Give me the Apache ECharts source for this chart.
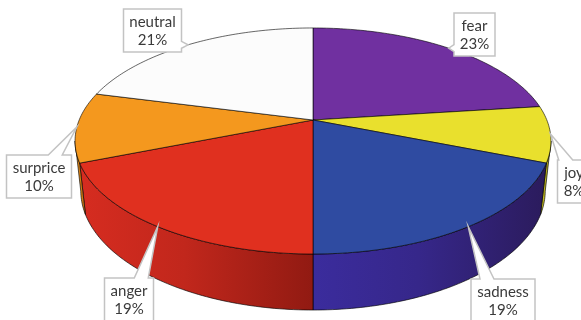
<!DOCTYPE html>
<html>
<head>
<meta charset="utf-8">
<script src="https://cdn.jsdelivr.net/npm/echarts@6/dist/echarts.min.js"></script>
<style>
  html, body { margin: 0; padding: 0; background: #fff; }
  #main { width: 581px; height: 320px; }
</style>
</head>
<body>
<div id="main"></div>
<script>
// data
const categories = ["fear", "joy", "sadness", "anger", "surprice", "neutral"]
const values = [23, 8, 19, 19, 10, 21]

// colours of the top faces and of the side walls (light -> dark)
const topColors = ["#7030A0", "#E9E02D", "#2F4BA1", "#E0301F", "#F4981E", "#FCFCFC"]
const sideColors = [
  ["#5A2480", "#3E1860"],
  ["#CFC624", "#8E8812"],
  ["#3B2C9D", "#2B1B5C"],
  ["#D62C20", "#911A12"],
  ["#E08A18", "#C47010"],
  ["#DADADA", "#B0B0B0"]
]

// label box layout: centre x and top y of every callout
const labelCx = [474.5, 574, 503, 129, 39, 152.5]
const labelTop = [13, 160, 279, 278, 155, 9]

// 3d view of the disk (perspective)
const view = {
  cx: 313, cy: 120, k: 1113, dist: 4.76,
  sin: 0.4667, cos: 0.884, height: 0.2425
}

const total = values.reduce((a, b) => a + b, 0)
const startAngles = []
let acc = 0
values.forEach(v => {
  startAngles.push(acc / total * 360)
  acc += v
})

//投影：theta 从正上方顺时针，z=0 为顶面，r 为半径(1 = 边缘)
function proj(theta, z, r) {
  if (r === undefined) r = 1
  const t = theta * Math.PI / 180
  const X = r * Math.sin(t), Y = r * Math.cos(t)
  const depth = view.dist + Y * view.cos - z * view.sin
  const v = Y * view.sin + z * view.cos
  return [view.cx + view.k * X / depth, view.cy - view.k * v / depth]
}

function arcPoints(a0, a1, z) {
  const pts = []
  const n = Math.max(2, Math.ceil(Math.abs(a1 - a0)))
  for (let i = 0; i <= n; i++) {
    pts.push(proj(a0 + (a1 - a0) * i / n, z))
  }
  return pts
}

// visible part of the side wall
const edgeAngle = Math.acos(-view.cos / view.dist) * 180 / Math.PI

function renderSide(params, api) {
  const i = params.dataIndex
  const a0 = startAngles[i]
  const a1 = a0 + api.value(0) / total * 360
  const s = Math.max(a0, edgeAngle)
  const e = Math.min(a1, 360 - edgeAngle)
  if (e <= s) return null
  const top = arcPoints(s, e, 0)
  const bottom = arcPoints(e, s, -view.height)
  const c = sideColors[i]
  // 右侧更暗，左侧更亮
  return {
    type: "polygon",
    shape: { points: top.concat(bottom) },
    style: {
      fill: new echarts.graphic.LinearGradient(0, 0, 1, 0, [
        { offset: 0, color: c[0] },
        { offset: 0.45, color: echarts.color.lerp(0.3, c) },
        { offset: 1, color: c[1] }
      ]),
      stroke: "rgba(0,0,0,0.8)",
      lineWidth: 0.8
    }
  }
}

function renderTop(params, api) {
  const i = params.dataIndex
  const a0 = startAngles[i]
  const a1 = a0 + api.value(0) / total * 360
  const pts = [proj(0, 0, 0)].concat(arcPoints(a0, a1, 0))
  return {
    type: "polygon",
    shape: { points: pts },
    style: {
      fill: topColors[i],
      stroke: "rgba(0,0,0,0.75)",
      lineWidth: 0.8
    }
  }
}

const ctx = document.createElement("canvas").getContext("2d")
ctx.font = "15px Lato"

function calloutPoints(x0, y0, x1, y1, tip) {
  const [tx, ty] = tip
  let side
  if (ty < y0) side = "top"
  else if (ty > y1) side = "bottom"
  else if (tx < x0) side = "left"
  else side = "right"
  const clamp = (v, lo, hi) => Math.min(hi, Math.max(lo, v))
  const w = x1 - x0
  let c, hw
  if (side === "top" || side === "bottom") {
    c = clamp(tx, x0 + w * 0.25, x1 - w * 0.25)
    hw = 7
  } else {
    c = clamp(ty, y0 + 6, y1 - 6)
    hw = 3.5
  }
  const pts = [[x0, y0]]
  if (side === "top") pts.push([c - hw, y0], tip, [c + hw, y0])
  pts.push([x1, y0])
  if (side === "right") pts.push([x1, c - hw], tip, [x1, c + hw])
  pts.push([x1, y1])
  if (side === "bottom") pts.push([c + hw, y1], tip, [c - hw, y1])
  pts.push([x0, y1])
  if (side === "left") pts.push([x0, c + hw], tip, [x0, c - hw])
  return pts
}

function renderLabel(params, api) {
  const i = params.dataIndex
  const v = api.value(0)
  const mid = startAngles[i] + v / total * 180
  const tip = proj(mid, 0)
  const line1 = categories[i]
  const line2 = Math.round(v / total * 100) + "%"
  const tw = Math.max(ctx.measureText(line1).width, ctx.measureText(line2).width)
  const w = Math.round(tw + 12)
  const h = 43
  const x0 = labelCx[i] - w / 2
  const y0 = labelTop[i]
  return {
    type: "group",
    children: [
      {
        type: "polygon",
        shape: { points: calloutPoints(x0, y0, x0 + w, y0 + h, tip) },
        style: { fill: "#fff", stroke: "#C3C3C3", lineWidth: 1.5 }
      },
      {
        type: "text",
        style: {
          text: line1 + "\n" + line2,
          x: labelCx[i],
          y: y0 + h / 2 + 1,
          align: "center",
          verticalAlign: "middle",
          fontSize: 15,
          fontFamily: "Lato",
          lineHeight: 18,
          fill: "#3a3a3a"
        }
      }
    ]
  }
}

const seriesData = values.map((v, i) => ({ name: categories[i], value: [v] }))

const option = {
  animation: false,
  series: [
    { type: "custom", coordinateSystem: "none", z: 1, data: seriesData, renderItem: renderSide },
    { type: "custom", coordinateSystem: "none", z: 2, data: seriesData, renderItem: renderTop },
    { type: "custom", coordinateSystem: "none", z: 3, data: seriesData, renderItem: renderLabel }
  ]
}

const chart = echarts.init(document.getElementById("main"))
chart.setOption(option)
</script>
</body>
</html>
